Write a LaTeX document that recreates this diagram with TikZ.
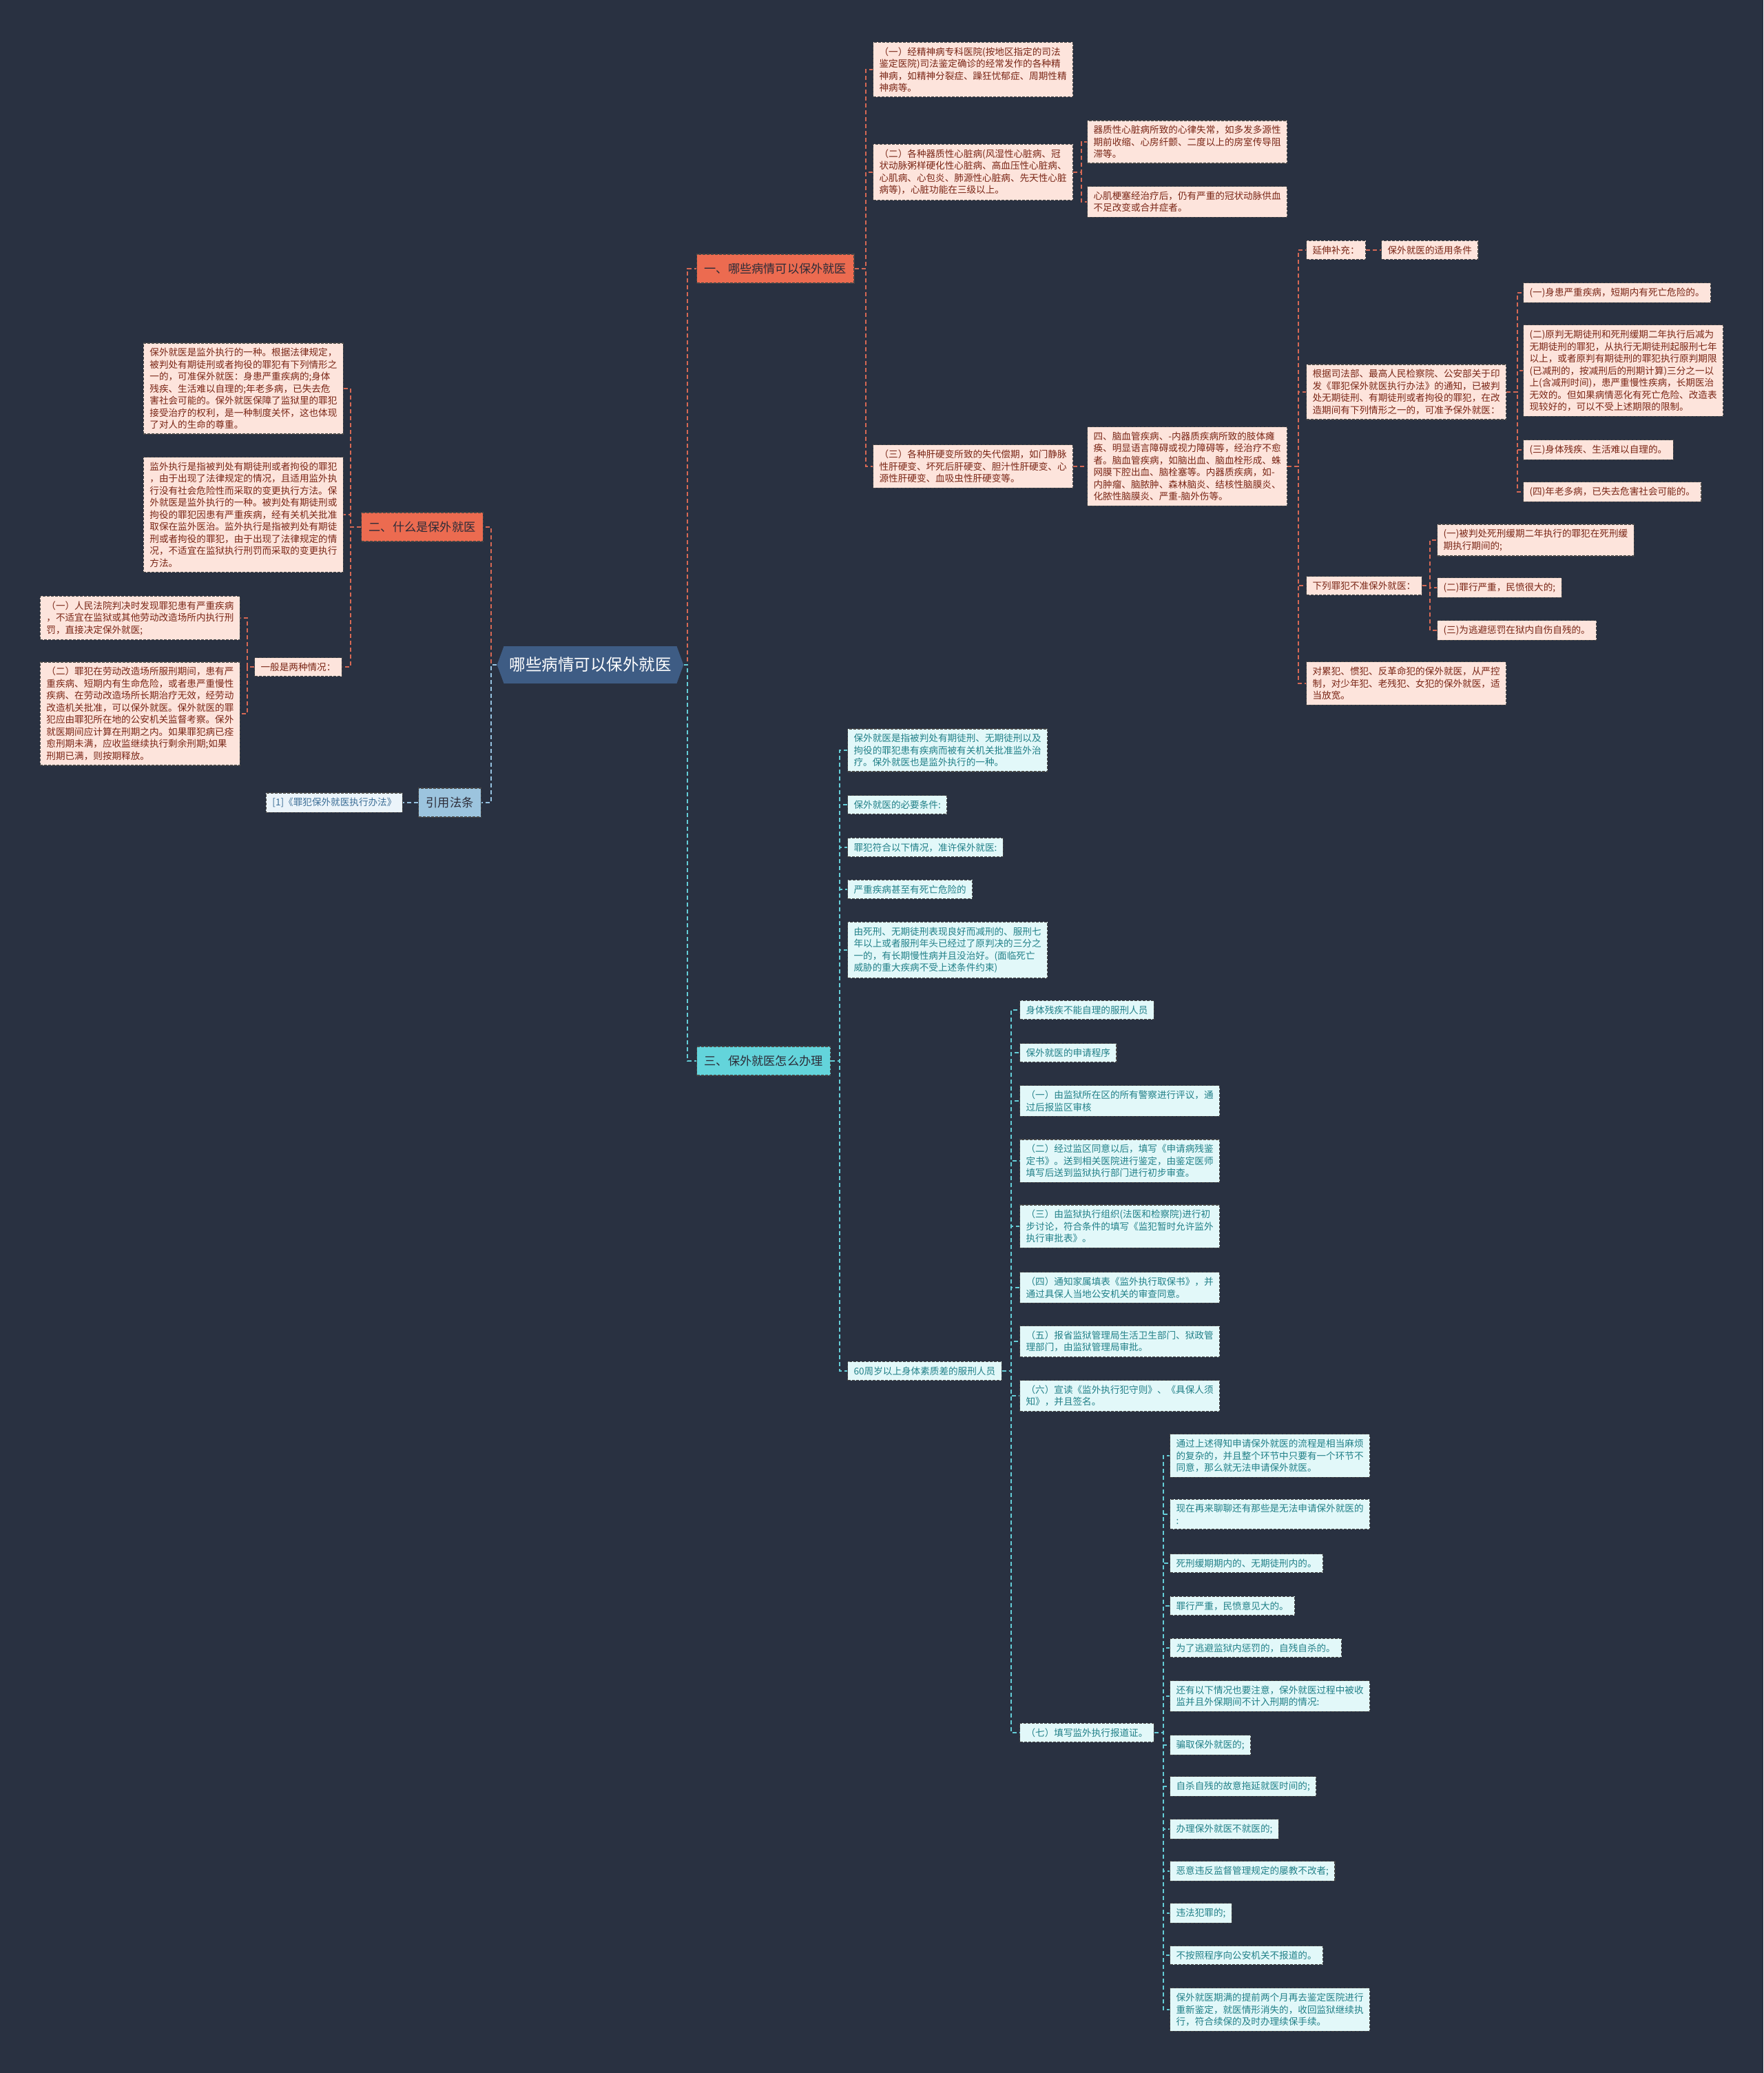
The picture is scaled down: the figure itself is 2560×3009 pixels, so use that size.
\documentclass[tikz,border=0pt]{standalone}
\usepackage{fontspec}
\setmainfont{Noto Sans CJK SC}
\usetikzlibrary{shapes.symbols}
\definecolor{bgc}{RGB}{41,49,65}
\definecolor{brtxt}{RGB}{44,44,56}
\definecolor{ctrfill}{RGB}{62,92,132}
\definecolor{redfill}{RGB}{236,107,80}
\definecolor{redleaf}{RGB}{253,228,220}
\definecolor{redtxt}{RGB}{122,38,22}
\definecolor{redline}{RGB}{214,104,84}
\definecolor{cyanfill}{RGB}{99,212,219}
\definecolor{cyanleaf}{RGB}{226,248,249}
\definecolor{cyantxt}{RGB}{33,128,136}
\definecolor{cyanline}{RGB}{100,205,215}
\definecolor{bluefill}{RGB}{156,196,222}
\definecolor{blueleaf}{RGB}{235,244,250}
\definecolor{bluetxt}{RGB}{60,110,150}
\definecolor{blueline}{RGB}{150,195,225}
\definecolor{leafbd}{RGB}{70,70,70}
\newcommand\leaffont{\fontsize{6.8pt}{8.75pt}\selectfont}
\newcommand\brfont{\fontsize{8.6pt}{10pt}\selectfont}
\newcommand\ctrfont{\fontsize{11.75pt}{13pt}\selectfont}
\tikzset{
  leafbase/.style={draw=leafbd, line width=0.6pt, dash pattern=on 2pt off 1pt,
    font=\leaffont, inner xsep=4.5pt, inner ysep=3.6pt, align=left},
  rleaf/.style={leafbase, fill=redleaf, text=redtxt},
  cleaf/.style={leafbase, fill=cyanleaf, text=cyantxt},
  bleaf/.style={leafbase, fill=blueleaf, text=bluetxt},
  wide/.style={text width=136pt},
  R/.style={anchor=west},
  L/.style={anchor=east},
  brbase/.style={draw=leafbd, line width=0.6pt, dash pattern=on 2pt off 1pt,
    font=\brfont, inner xsep=5.5pt, minimum height=21pt, text=brtxt},
  rbranch/.style={brbase, fill=redfill},
  cbranch/.style={brbase, fill=cyanfill},
  bbranch/.style={brbase, fill=bluefill},
  con/.style={line width=1pt, dash pattern=on 3pt off 2pt},
  rc/.style={con, draw=redline},
  cc/.style={con, draw=cyanline},
  bc/.style={con, draw=blueline},
}
\begin{document}
\begin{tikzpicture}[x=0.5pt,y=-0.5pt]
\fill[bgc] (0,0) rectangle (2560,3009);
\useasboundingbox (0,0) rectangle (2560,3009);

% centre
\node[shape=signal, signal to=west and east, signal pointer angle=140,
  fill=ctrfill, text=white, font=\ctrfont, inner xsep=4pt, minimum height=27pt]
  (ctr) at (857,965) {哪些病情可以保外就医};

% bus coordinates
\coordinate (bR0) at (998,0);
\coordinate (bL0) at (713,0);
\coordinate (b1) at (1257,0);
\coordinate (b2) at (1570,0);
\coordinate (b3) at (1885,0);
\coordinate (b4) at (2203,0);
\coordinate (b5) at (2076,0);
\coordinate (bL1) at (509,0);
\coordinate (bL2) at (359,0);
\coordinate (b6) at (1219,0);
\coordinate (b7) at (1468,0);
\coordinate (b8) at (1689,0);

% main branches
\node[rbranch, R] (br1) at (1011,390) {一、哪些病情可以保外就医};
\node[rbranch, L] (br2) at (702,765) {二、什么是保外就医};
\node[cbranch, R] (br3) at (1011,1540) {三、保外就医怎么办理};
\node[bbranch, L] (law) at (699,1165) {引用法条};
\node[bleaf, L] (lawc) at (585,1165) {[1]《罪犯保外就医执行办法》};

% branch 1
\node[rleaf, wide, R] (c1) at (1267,101) {（一）经精神病专科医院(按地区指定的司法\\鉴定医院)司法鉴定确诊的经常发作的各种精\\神病，如精神分裂症、躁狂忧郁症、周期性精\\神病等。};
\node[rleaf, wide, R] (c2) at (1267,250) {（二）各种器质性心脏病(风湿性心脏病、冠\\状动脉粥样硬化性心脏病、高血压性心脏病、\\心肌病、心包炎、肺源性心脏病、先天性心脏\\病等)，心脏功能在三级以上。};
\node[rleaf, wide, R] (c3) at (1267,677) {（三）各种肝硬变所致的失代偿期，如门静脉\\性肝硬变、坏死后肝硬变、胆汁性肝硬变、心\\源性肝硬变、血吸虫性肝硬变等。};
\node[rleaf, wide, R] (c2a) at (1578,206) {器质性心脏病所致的心律失常，如多发多源性\\期前收缩、心房纤颤、二度以上的房室传导阻\\滞等。};
\node[rleaf, wide, R] (c2b) at (1578,293) {心肌梗塞经治疗后，仍有严重的冠状动脉供血\\不足改变或合并症者。};
\node[rleaf, wide, R] (c3a) at (1578,677) {四、脑血管疾病、-内器质疾病所致的肢体瘫\\痪、明显语言障碍或视力障碍等，经治疗不愈\\者。脑血管疾病，如脑出血、脑血栓形成、蛛\\网膜下腔出血、脑栓塞等。内器质疾病，如-\\内肿瘤、脑脓肿、森林脑炎、结核性脑膜炎、\\化脓性脑膜炎、严重-脑外伤等。};
\node[rleaf, R] (e1) at (1896,363) {延伸补充：};
\node[rleaf, R] (e1a) at (2005,363) {保外就医的适用条件};
\node[rleaf, wide, R] (e2) at (1896,569) {根据司法部、最高人民检察院、公安部关于印\\发《罪犯保外就医执行办法》的通知，已被判\\处无期徒刑、有期徒刑或者拘役的罪犯，在改\\造期间有下列情形之一的，可准予保外就医：};
\node[rleaf, R] (e2a) at (2211,425) {(一)身患严重疾病，短期内有死亡危险的。};
\node[rleaf, wide, R] (e2b) at (2211,538) {(二)原判无期徒刑和死刑缓期二年执行后减为\\无期徒刑的罪犯，从执行无期徒刑起服刑七年\\以上，或者原判有期徒刑的罪犯执行原判期限\\(已减刑的，按减刑后的刑期计算)三分之一以\\上(含减刑时间)，患严重慢性疾病，长期医治\\无效的。但如果病情恶化有死亡危险、改造表\\现较好的，可以不受上述期限的限制。};
\node[rleaf, R] (e2c) at (2211,653) {(三)身体残疾、生活难以自理的。};
\node[rleaf, R] (e2d) at (2211,714) {(四)年老多病，已失去危害社会可能的。};
\node[rleaf, R] (e3) at (1896,850) {下列罪犯不准保外就医：};
\node[rleaf, R] (e3a) at (2086,784) {(一)被判处死刑缓期二年执行的罪犯在死刑缓\\期执行期间的;};
\node[rleaf, R] (e3b) at (2086,853) {(二)罪行严重，民愤很大的;};
\node[rleaf, R] (e3c) at (2086,915) {(三)为逃避惩罚在狱内自伤自残的。};
\node[rleaf, wide, R] (e4) at (1896,992) {对累犯、惯犯、反革命犯的保外就医，从严控\\制，对少年犯、老残犯、女犯的保外就医，适\\当放宽。};

% branch 2
\node[rleaf, wide, L] (l1) at (499,564) {保外就医是监外执行的一种。根据法律规定，\\被判处有期徒刑或者拘役的罪犯有下列情形之\\一的，可准保外就医：身患严重疾病的;身体\\残疾、生活难以自理的;年老多病，已失去危\\害社会可能的。保外就医保障了监狱里的罪犯\\接受治疗的权利，是一种制度关怀，这也体现\\了对人的生命的尊重。};
\node[rleaf, wide, L] (l2) at (499,747) {监外执行是指被判处有期徒刑或者拘役的罪犯\\，由于出现了法律规定的情况，且适用监外执\\行没有社会危险性而采取的变更执行方法。保\\外就医是监外执行的一种。被判处有期徒刑或\\拘役的罪犯因患有严重疾病，经有关机关批准\\取保在监外医治。监外执行是指被判处有期徒\\刑或者拘役的罪犯，由于出现了法律规定的情\\况，不适宜在监狱执行刑罚而采取的变更执行\\方法。};
\node[rleaf, L] (l3) at (497,968) {一般是两种情况：};
\node[rleaf, wide, L] (l3a) at (349,897) {（一）人民法院判决时发现罪犯患有严重疾病\\，不适宜在监狱或其他劳动改造场所内执行刑\\罚，直接决定保外就医;};
\node[rleaf, wide, L] (l3b) at (349,1036) {（二）罪犯在劳动改造场所服刑期间，患有严\\重疾病、短期内有生命危险，或者患严重慢性\\疾病、在劳动改造场所长期治疗无效，经劳动\\改造机关批准，可以保外就医。保外就医的罪\\犯应由罪犯所在地的公安机关监督考察。保外\\就医期间应计算在刑期之内。如果罪犯病已痊\\愈刑期未满，应收监继续执行剩余刑期;如果\\刑期已满，则按期释放。};

% branch 3
\node[cleaf, wide, R] (t1) at (1230,1089) {保外就医是指被判处有期徒刑、无期徒刑以及\\拘役的罪犯患有疾病而被有关机关批准监外治\\疗。保外就医也是监外执行的一种。};
\node[cleaf, R] (t2) at (1230,1168) {保外就医的必要条件:};
\node[cleaf, R] (t3) at (1230,1230) {罪犯符合以下情况，准许保外就医:};
\node[cleaf, R] (t4) at (1230,1291) {严重疾病甚至有死亡危险的};
\node[cleaf, wide, R] (t5) at (1230,1379) {由死刑、无期徒刑表现良好而减刑的、服刑七\\年以上或者服刑年头已经过了原判决的三分之\\一的，有长期慢性病并且没治好。(面临死亡\\威胁的重大疾病不受上述条件约束)};
\node[cleaf, R] (t6) at (1230,1990) {60周岁以上身体素质差的服刑人员};

\node[cleaf, R] (p1) at (1480,1466) {身体残疾不能自理的服刑人员};
\node[cleaf, R] (p2) at (1480,1528) {保外就医的申请程序};
\node[cleaf, wide, R] (p3) at (1480,1598) {（一）由监狱所在区的所有警察进行评议，通\\过后报监区审核};
\node[cleaf, wide, R] (p4) at (1480,1685) {（二）经过监区同意以后，填写《申请病残鉴\\定书》。送到相关医院进行鉴定，由鉴定医师\\填写后送到监狱执行部门进行初步审查。};
\node[cleaf, wide, R] (p5) at (1480,1780) {（三）由监狱执行组织(法医和检察院)进行初\\步讨论，符合条件的填写《监犯暂时允许监外\\执行审批表》。};
\node[cleaf, wide, R] (p6) at (1480,1869) {（四）通知家属填表《监外执行取保书》，并\\通过具保人当地公安机关的审查同意。};
\node[cleaf, wide, R] (p7) at (1480,1947) {（五）报省监狱管理局生活卫生部门、狱政管\\理部门，由监狱管理局审批。};
\node[cleaf, wide, R] (p8) at (1480,2026) {（六）宣读《监外执行犯守则》、《具保人须\\知》，并且签名。};
\node[cleaf, R] (p9) at (1480,2515) {（七）填写监外执行报道证。};

\node[cleaf, wide, R] (q1) at (1698,2113) {通过上述得知申请保外就医的流程是相当麻烦\\的复杂的，并且整个环节中只要有一个环节不\\同意，那么就无法申请保外就医。};
\node[cleaf, wide, R] (q2) at (1698,2198) {现在再来聊聊还有那些是无法申请保外就医的\\:};
\node[cleaf, R] (q3) at (1698,2269) {死刑缓期期内的、无期徒刑内的。};
\node[cleaf, R] (q4) at (1698,2331) {罪行严重，民愤意见大的。};
\node[cleaf, R] (q5) at (1698,2392) {为了逃避监狱内惩罚的，自残自杀的。};
\node[cleaf, wide, R] (q6) at (1698,2462) {还有以下情况也要注意，保外就医过程中被收\\监并且外保期间不计入刑期的情况:};
\node[cleaf, R] (q7) at (1698,2533) {骗取保外就医的;};
\node[cleaf, R] (q8) at (1698,2593) {自杀自残的故意拖延就医时间的;};
\node[cleaf, R] (q9) at (1698,2655) {办理保外就医不就医的;};
\node[cleaf, R] (q10) at (1698,2716) {恶意违反监督管理规定的屡教不改者;};
\node[cleaf, R] (q11) at (1698,2777) {违法犯罪的;};
\node[cleaf, R] (q12) at (1698,2838) {不按照程序向公安机关不报道的。};
\node[cleaf, wide, R] (q13) at (1698,2917) {保外就医期满的提前两个月再去鉴定医院进行\\重新鉴定，就医情形消失的，收回监狱继续执\\行，符合续保的及时办理续保手续。};

% connectors: centre
\draw[rc] (ctr.east) -- (ctr.east -| bR0) |- (br1.west);
\draw[cc] (ctr.east) -- (ctr.east -| bR0) |- (br3.west);
\draw[rc] (ctr.west) -- (ctr.west -| bL0) |- (br2.east);
\draw[bc] (ctr.west) -- (ctr.west -| bL0) |- (law.east);
\draw[bc] (law.west) -- (lawc.east);

% branch 1
\foreach \c in {c1,c2,c3} \draw[rc] (br1.east) -- (br1.east -| b1) |- (\c.west);
\foreach \c in {c2a,c2b} \draw[rc] (c2.east) -- (c2.east -| b2) |- (\c.west);
\draw[rc] (c3.east) -- (c3a.west);
\foreach \c in {e1,e2,e3,e4} \draw[rc] (c3a.east) -- (c3a.east -| b3) |- (\c.west);
\draw[rc] (e1.east) -- (e1a.west);
\foreach \c in {e2a,e2b,e2c,e2d} \draw[rc] (e2.east) -- (e2.east -| b4) |- (\c.west);
\foreach \c in {e3a,e3b,e3c} \draw[rc] (e3.east) -- (e3.east -| b5) |- (\c.west);

% branch 2
\foreach \c in {l1,l2,l3} \draw[rc] (br2.west) -- (br2.west -| bL1) |- (\c.east);
\foreach \c in {l3a,l3b} \draw[rc] (l3.west) -- (l3.west -| bL2) |- (\c.east);

% branch 3
\foreach \c in {t1,t2,t3,t4,t5,t6} \draw[cc] (br3.east) -- (br3.east -| b6) |- (\c.west);
\foreach \c in {p1,p2,p3,p4,p5,p6,p7,p8,p9} \draw[cc] (t6.east) -- (t6.east -| b7) |- (\c.west);
\foreach \c in {q1,q2,q3,q4,q5,q6,q7,q8,q9,q10,q11,q12,q13} \draw[cc] (p9.east) -- (p9.east -| b8) |- (\c.west);
\end{tikzpicture}
\end{document}
